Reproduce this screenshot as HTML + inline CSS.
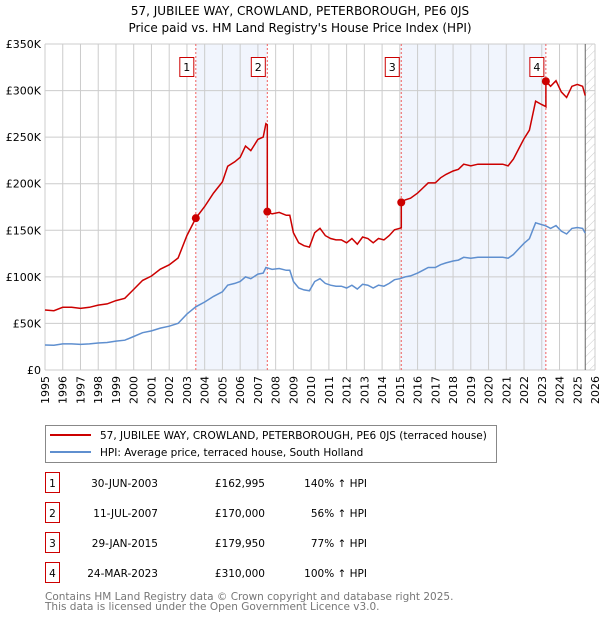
<!DOCTYPE html>
<html><head><meta charset="utf-8">
<style>
body{margin:0;background:#fff;font-family:"DejaVu Sans","Liberation Sans",sans-serif;}
svg text{font-family:"DejaVu Sans","Liberation Sans",sans-serif;}
</style></head>
<body>
<svg id="c" width="600" height="620" xmlns="http://www.w3.org/2000/svg">
<defs>
<pattern id="hatch" width="6" height="6" patternUnits="userSpaceOnUse" patternTransform="rotate(45)">
<line x1="0" y1="0" x2="0" y2="6" stroke="#ccc" stroke-width="1"/>
</pattern>
</defs>
<text x="300" y="15" text-anchor="middle" font-size="12">57, JUBILEE WAY, CROWLAND, PETERBOROUGH, PE6 0JS</text>
<text x="300" y="32" text-anchor="middle" font-size="12">Price paid vs. HM Land Registry's House Price Index (HPI)</text>
<g id="plot"></g>
<g>
<rect x="45.5" y="425.5" width="451" height="37" fill="#fff" stroke="#888"/>
<line x1="50" y1="435" x2="91" y2="435" stroke="#cc0000" stroke-width="2"/>
<text x="100" y="439" font-size="10.5">57, JUBILEE WAY, CROWLAND, PETERBOROUGH, PE6 0JS (terraced house)</text>
<line x1="50" y1="452" x2="91" y2="452" stroke="#5f8fcf" stroke-width="2"/>
<text x="100" y="456" font-size="10.5">HPI: Average price, terraced house, South Holland</text>
</g>
<g id="table" font-size="10.5"></g>
<text x="45" y="600" font-size="10.5" fill="#777">Contains HM Land Registry data © Crown copyright and database right 2025.</text>
<text x="45" y="610" font-size="10.5" fill="#777">This data is licensed under the Open Government Licence v3.0.</text>
</svg>
<script>
const hpiYears=[1995,1995.5,1996,1996.5,1997,1997.5,1998,1998.5,1999,1999.5,2000,2000.5,2001,2001.5,2002,2002.5,2003,2003.5,2004,2004.5,2005,2005.3,2005.7,2006,2006.3,2006.6,2007,2007.3,2007.45,2007.8,2008.2,2008.6,2008.8,2009,2009.3,2009.6,2009.9,2010.2,2010.5,2010.8,2011.1,2011.4,2011.7,2012,2012.3,2012.6,2012.9,2013.2,2013.5,2013.8,2014.1,2014.4,2014.7,2015,2015.3,2015.6,2016,2016.3,2016.6,2017,2017.3,2017.6,2018,2018.3,2018.6,2019,2019.4,2019.8,2020.2,2020.5,2020.8,2021.1,2021.4,2021.7,2022,2022.3,2022.65,2023,2023.2,2023.5,2023.8,2024.1,2024.4,2024.7,2025,2025.3,2025.45];
const hpiValues=[26.8,26.5,28,28,27.5,28,29,29.5,31,32,36,40,42,45,47,50,60,67.8,73,79,84,91,93,95,100,98,103,104,110,108,109,107,107,95,88,86,85,95,98,93,91,90,90,88,91,87,92,91,88,91,90,93,97,98,100,101,104,107,110,110,113,115,117,118,121,120,121,121,121,121,121,120,124,130,136,141,158,156,155,152,155,149,146,152,153,152,147];
const saleYears=[2003.5,2007.53,2015.08,2023.23];
const salePrices=[162.995,170,179.95,310];
const saleLabels=["1","2","3","4"];
const saleDates=["30-JUN-2003","11-JUL-2007","29-JAN-2015","24-MAR-2023"];
const salePriceText=["£162,995","£170,000","£179,950","£310,000"];
const saleHpiText=["140% ↑ HPI","56% ↑ HPI","77% ↑ HPI","100% ↑ HPI"];
const yTicks=[0,50,100,150,200,250,300,350];
const yTickLabels=["£0","£50K","£100K","£150K","£200K","£250K","£300K","£350K"];
const xStart=1995,xEnd=2026,dataEnd=2025.45;

const NS="http://www.w3.org/2000/svg";
const L=45,R=595,T=44,B=370;
const xs=y=>L+(y-xStart)/(xEnd-xStart)*(R-L);
const ys=v=>B-v/350*(B-T);
const plot=document.getElementById('plot');
function mk(tag,attrs,parent){const e=document.createElementNS(NS,tag);for(const k in attrs)e.setAttribute(k,attrs[k]);(parent||plot).appendChild(e);return e;}
function hpiAt(y){for(let i=1;i<hpiYears.length;i++){if(hpiYears[i]>=y){const t=(y-hpiYears[i-1])/(hpiYears[i]-hpiYears[i-1]);return hpiValues[i-1]+t*(hpiValues[i]-hpiValues[i-1]);}}return hpiValues[hpiValues.length-1];}

for(let i=0;i+1<saleYears.length;i+=2){
 const r=mk('rect',{x:xs(saleYears[i]),y:T,width:xs(saleYears[i+1])-xs(saleYears[i]),height:B-T,fill:'#eef3fc',opacity:0.8});
 
 
}
const h=mk('rect',{x:xs(dataEnd),y:T,width:R-xs(dataEnd),height:B-T,fill:'url(#hatch)'});


for(let yr=xStart;yr<=xEnd;yr++){
 const g=mk('line',{x1:xs(yr),x2:xs(yr),y1:T,y2:B,stroke:'#ccc','stroke-width':1});
 
 
 const t=mk('text',{x:0,y:0,'font-size':11,'text-anchor':'end',transform:`translate(${xs(yr)+4},${B+6}) rotate(-90)`});
 t.textContent=yr;
 
 
}
yTicks.forEach((v,i)=>{
 const g=mk('line',{x1:L,x2:R,y1:ys(v),y2:ys(v),stroke:'#ccc','stroke-width':1});
 
 
 const t=mk('text',{x:L-4,y:ys(v)+4,'font-size':11,'text-anchor':'end'});
 t.textContent=yTickLabels[i];
 
 
});
const el=mk('line',{x1:xs(dataEnd),x2:xs(dataEnd),y1:T,y2:B,stroke:'#666','stroke-width':1});


saleYears.forEach((y,i)=>{
 const v=mk('line',{x1:xs(y),x2:xs(y),y1:T,y2:B,stroke:'#f06060','stroke-width':1,'stroke-dasharray':'2,2'});
 
 
});
const hp=hpiYears.map((y,i)=>xs(y).toFixed(1)+','+ys(hpiValues[i]).toFixed(1)).join(' ');
const hl=mk('polyline',{points:hp,fill:'none',stroke:'#5f8fcf','stroke-width':1.5});


const ratios=saleYears.map((y,i)=>salePrices[i]/hpiAt(y));
const pts=[];
function addPt(y,v){pts.push(xs(y).toFixed(1)+','+ys(v).toFixed(1));}
let seg=0;
hpiYears.forEach((y,i)=>{
 while(seg<saleYears.length-1&&y>=saleYears[seg+1]){
  addPt(saleYears[seg+1],hpiAt(saleYears[seg+1])*ratios[seg]);
  addPt(saleYears[seg+1],salePrices[seg+1]);
  seg++;
 }
 addPt(y,hpiValues[i]*ratios[seg]);
});
const pl=mk('polyline',{points:pts.join(' '),fill:'none',stroke:'#cc0000','stroke-width':1.5});


saleYears.forEach((y,i)=>{
 const c=mk('circle',{cx:xs(y),cy:ys(salePrices[i]),r:4,fill:'#cc0000'});
 
 
 const b=mk('rect',{x:xs(y)-16,y:57.5,width:14,height:19,fill:'#fff',stroke:'#cc0000'});
 
 
 const t=mk('text',{x:xs(y)-9,y:71,'font-size':11,'text-anchor':'middle'});
 t.textContent=saleLabels[i];
 
 
});
const tb=document.getElementById('table');
saleYears.forEach((y,i)=>{
 const cy=487+i*30;
 const b=mk('rect',{x:45.5,y:cy-14.5,width:14,height:20,fill:'#fff',stroke:'#cc0000'},tb);
 
 
 const cols=[[52.5,saleLabels[i],'middle','num'],[158,saleDates[i],'end','date'],[265,salePriceText[i],'end','price'],[367,saleHpiText[i],'end','hpi-change']];
 cols.forEach(c=>{
  const t=mk('text',{x:c[0],y:cy,'text-anchor':c[2]},tb);
  t.textContent=c[1];
  
  
 });
});
</script>
</body></html>
